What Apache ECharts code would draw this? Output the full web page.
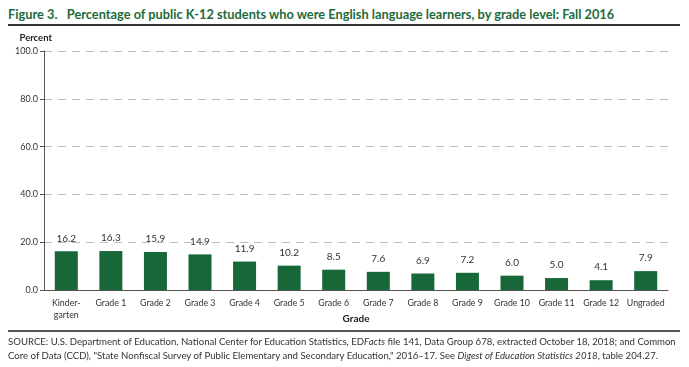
<!DOCTYPE html>
<html><head><meta charset="utf-8">
<script src="https://cdn.jsdelivr.net/npm/echarts@6/dist/echarts.min.js"></script>
<style>
html,body{margin:0;padding:0;background:#fff;}
#wrap{position:relative;width:689px;height:367px;font-family:Lato,"Liberation Sans",sans-serif;}
#title{position:absolute;left:8px;top:6px;font-size:12.8px;font-weight:bold;color:#1d6b3c;white-space:nowrap;z-index:2;}
#rule1{position:absolute;left:8px;top:24px;width:672px;height:2px;background:#333;z-index:2;}
#rule2{position:absolute;left:8px;top:330px;width:672px;height:2px;background:#555;z-index:2;}
#src{position:absolute;left:8px;top:335px;font-size:9.6px;line-height:14px;color:#333;white-space:nowrap;z-index:2;}
#chart{position:absolute;left:0;top:26px;width:689px;height:341px;z-index:1;}
</style></head>
<body><div id="wrap">
<div id="title">Figure 3.&nbsp;&nbsp; Percentage of public K-12 students who were English language learners, by grade level: Fall 2016</div>
<div id="rule1"></div>
<div id="chart"></div>
<div id="rule2"></div>
<div id="src">SOURCE: U.S. Department of Education, National Center for Education Statistics, ED<i>Facts</i> file 141, Data Group 678, extracted October 18, 2018; and Common<br>Core of Data (CCD), "State Nonfiscal Survey of Public Elementary and Secondary Education," 2016–17. See <i>Digest of Education Statistics 2018</i>, table 204.27.</div>
</div>
<script>
const categories = ["Kinder-\ngarten","Grade 1","Grade 2","Grade 3","Grade 4","Grade 5","Grade 6","Grade 7","Grade 8","Grade 9","Grade 10","Grade 11","Grade 12","Ungraded"];
const values = [16.2,16.3,15.9,14.9,11.9,10.2,8.5,7.6,6.9,7.2,6.0,5.0,4.1,7.9];
const yTicks = [0,20,40,60,80,100];

const chart = echarts.init(document.getElementById('chart'), null, {renderer:'canvas'});
const font = 'Lato, "Liberation Sans", sans-serif';
chart.setOption({
  animation:false,
  textStyle:{fontFamily:font},
  grid:{left:44,right:21,top:25,bottom:77,containLabel:false,outerBoundsMode:'none'},
  xAxis:{
    type:'category', data:categories,
    name:'Grade', nameLocation:'middle', nameGap:24, nameMoveOverlap:false,
    nameTextStyle:{fontSize:10,fontWeight:'bold',color:'#222',fontFamily:font},
    axisLine:{lineStyle:{color:'#555',width:1}},
    axisTick:{show:false},
    axisLabel:{fontSize:8.8,color:'#333',lineHeight:12,margin:7,interval:0,fontFamily:font}
  },
  yAxis:{
    type:'value', min:0, max:100, interval:20,
    name:'Percent', nameLocation:'end', nameGap:8,
    nameTextStyle:{fontSize:9.5,fontWeight:'bold',color:'#222',align:'right',padding:[0,-8,0,0],fontFamily:font},
    axisLine:{show:true,lineStyle:{color:'#555',width:1}},
    axisTick:{show:true,length:4,lineStyle:{color:'#555'}},
    axisLabel:{fontSize:9,color:'#333',margin:6,formatter:v=>yTicks.includes(v)?v.toFixed(1):'',fontFamily:font},
    splitLine:{show:true,lineStyle:{color:'#bbb',type:[8,6],width:1}}
  },
  series:[{
    type:'bar', data:values, barWidth:23,
    itemStyle:{color:'#176739'},
    label:{show:true,position:'top',distance:8,fontSize:10,color:'#333',formatter:p=>p.value.toFixed(1),fontFamily:font}
  }]
});
</script>
</body></html>
